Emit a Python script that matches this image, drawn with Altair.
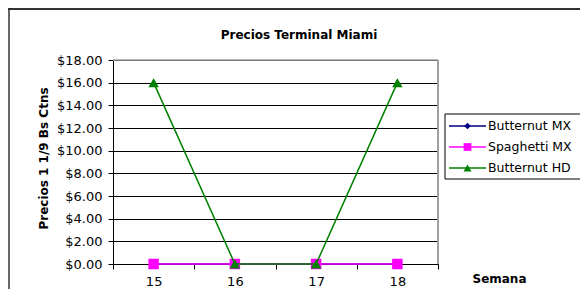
import altair as alt
import pandas as pd

weeks = ["15", "16", "17", "18"]
series = ["Butternut MX", "Spaghetti MX", "Butternut HD"]
butternut_mx = [0, 0, 0, 0]
spaghetti_mx = [0, 0, 0, 0]
butternut_hd = [16, 0, 0, 16]
y_ticks = [0, 2, 4, 6, 8, 10, 12, 14, 16, 18]

colors = ["#000080", "#FF00FF", "#008000"]
shapes = ["diamond", "square", "triangle-up"]
sizes = [70, 110, 110]
leg_sizes = [45, 60, 65]

rows = []
for s, vals in zip(series, [butternut_mx, spaghetti_mx, butternut_hd]):
    for w, v in zip(weeks, vals):
        rows.append({"series": s, "week": w, "value": v})
df = pd.DataFrame(rows)

FONT = "DejaVu Sans"
W, H = 325, 204

xaxis = alt.Axis(title="Semana", labelAngle=0, tickBand="extent", tickSize=5,
                 tickColor="black", domainColor="black", labelColor="black",
                 labelFont=FONT, labelFontSize=13, labelPadding=6,
                 titleFont=FONT, titleFontSize=12, titleFontWeight="bold",
                 titleX=386, titleY=14, titleBaseline="middle", titleAlign="center",
                 grid=False)
yaxis = alt.Axis(values=y_ticks, tickCount=10, format="$.2f", title="Precios 1 1/9 Bs Ctns",
                 tickSize=5, tickColor="black", domainColor="black",
                 labelColor="black", labelFont=FONT, labelFontSize=13, labelPadding=6,
                 labelOverlap=False, labelFlush=False,
                 titleFont=FONT, titleFontSize=12, titleFontWeight="bold",
                 titleAngle=270, titleX=-70, titleY=98, titleAlign="center",
                 titleBaseline="middle",
                 grid=True, gridColor="black", gridWidth=1)
xscale = alt.Scale(type="band", domain=weeks, paddingInner=0, paddingOuter=0)
yscale = alt.Scale(domain=[0, 18], nice=False, zero=True)

def X():
    return alt.X("week:O", bandPosition=0.5, scale=xscale, axis=xaxis)

def Y():
    return alt.Y("value:Q", scale=yscale, axis=yaxis)

base = alt.Chart(df)
layers = []
one = alt.Data(values=[{"a": 1}])

for i, s in enumerate(series):
    sub = base.transform_filter(alt.datum.series == s)
    layers.append(sub.mark_line(color=colors[i], strokeWidth=1.5).encode(x=X(), y=Y()))
    layers.append(sub.mark_point(color=colors[i], filled=True, opacity=1, shape=shapes[i],
                                 size=sizes[i]).encode(x=X(), y=Y()))

# plot border top/right gray
layers.append(alt.Chart(one).mark_rule(color="#a0a0a0", strokeWidth=2).encode(
    x=alt.value(W), y=alt.value(0), y2=alt.value(H)))
layers.append(alt.Chart(one).mark_rule(color="#a0a0a0", strokeWidth=1.5).encode(
    x=alt.value(0), x2=alt.value(W), y=alt.value(0)))

# legend box
layers.append(alt.Chart(one).mark_rect(fill="white", stroke="black", strokeWidth=1).encode(
    x=alt.value(332), x2=alt.value(468), y=alt.value(54), y2=alt.value(119)))
for i, s in enumerate(series):
    ld = alt.Data(values=[{"series": s}])
    yv = 66 + 21 * i
    layers.append(alt.Chart(ld).mark_rule(color=colors[i], strokeWidth=1.5).encode(
        x=alt.value(336), x2=alt.value(373), y=alt.value(yv)))
    layers.append(alt.Chart(ld).mark_point(color=colors[i], filled=True, opacity=1, shape=shapes[i],
                                           size=leg_sizes[i]).encode(
        x=alt.value(354.5), y=alt.value(yv)))
    layers.append(alt.Chart(ld).mark_text(align="left", baseline="middle", font=FONT, fontSize=12.5,
                                          color="black").encode(
        x=alt.value(375), y=alt.value(yv), text="series:N"))

# title
layers.append(alt.Chart(alt.Data(values=[{"t": "Precios Terminal Miami"}])).mark_text(
    align="center", baseline="middle", font=FONT, fontSize=12, fontWeight="bold", color="black").encode(
    x=alt.value(186), y=alt.value(-25), text="t:N"))

# outer frame (top and left)
layers.append(alt.Chart(one).mark_rule(color="#333333", strokeWidth=2).encode(
    x=alt.value(-105), x2=alt.value(467), y=alt.value(-51)))
layers.append(alt.Chart(one).mark_rule(color="#333333", strokeWidth=1.5).encode(
    x=alt.value(-104), y=alt.value(-52), y2=alt.value(240)))

chart = alt.layer(*layers).properties(
    width=W, height=H,
    autosize=alt.AutoSizeParams(type="none"),
    padding={"left": 105, "top": 52, "right": 142, "bottom": 25},
    background="white",
).configure_view(stroke=None)

chart.save("out.html", embed_options={"renderer": "svg", "actions": False})
